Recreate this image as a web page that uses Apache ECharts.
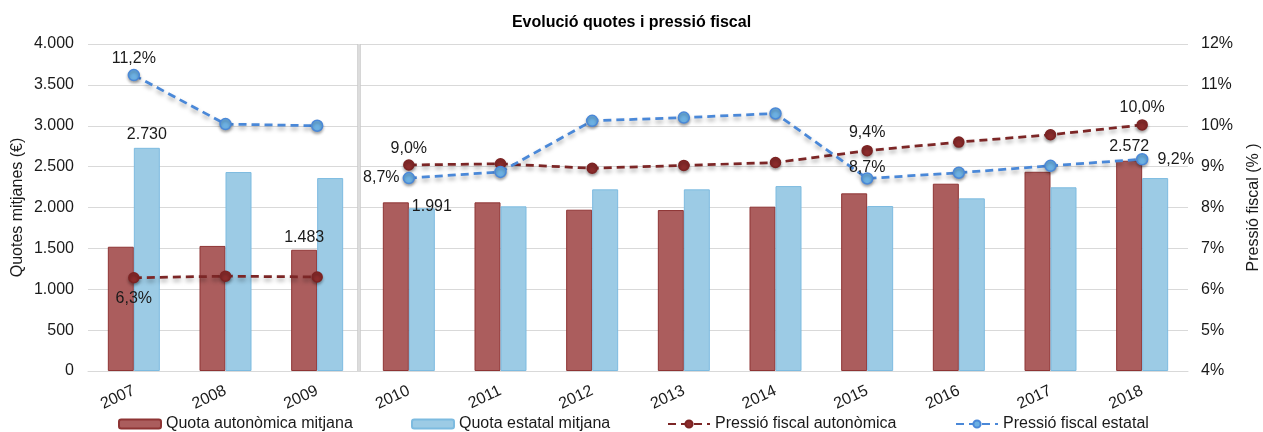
<!DOCTYPE html>
<html>
<head>
<meta charset="utf-8">
<script src="https://cdn.jsdelivr.net/npm/echarts@6/dist/echarts.min.js"></script>
<style>
html,body{margin:0;padding:0;background:#fff;}
#chart{width:1263px;height:432px;}
</style>
</head>
<body>
<div id="chart"></div>
<script>
// ---- Data ----
var years = ['2007','2008','2009','2010','2011','2012','2013','2014','2015','2016','2017','2018'];
var quotaAutonomica = [1520, 1530, 1483, 2063, 2063, 1973, 1969, 2010, 2173, 2291, 2437, 2572];
var quotaEstatal = [2730, 2434, 2360, 1991, 2014, 2222, 2222, 2262, 2018, 2112, 2247, 2360];
var pressioAutonomica = [6.28, 6.32, 6.30, 9.04, 9.07, 8.96, 9.03, 9.10, 9.39, 9.60, 9.78, 10.02];
var pressioEstatal = [11.24, 10.04, 10.00, 8.72, 8.87, 10.12, 10.20, 10.30, 8.71, 8.85, 9.02, 9.18];
var leftTicks = [0, 500, 1000, 1500, 2000, 2500, 3000, 3500, 4000];
var rightTicks = [4, 5, 6, 7, 8, 9, 10, 11, 12];
var seriesBreakIndex = 3; // series discontinuity between 2009 and 2010

// ---- Formatting helpers ----
function fmtThousands(v){
  var s = String(Math.round(v));
  return s.replace(/\B(?=(\d{3})+(?!\d))/g, '.');
}
function fmtPct1(v){ return v.toFixed(1).replace('.', ',') + '%'; }

// ---- Styles / label placement ----
var FONT = '"Liberation Sans", Arial, sans-serif';
var TXT = '#1a1a1a';
var FS = 16;
var barAutLabels = { 2: {position:'top', distance:4}, 11: {position:'top', distance:6} };
var barEstLabels = { 0: {position:'top', distance:5}, 3: {position:'top', distance:0, offset:[10, 6]} };
var lineAutLabels = { 0: {position:'bottom', distance:7}, 3: {position:'top', distance:3}, 8: {position:'top', distance:4}, 11: {position:'top', distance:4} };
var lineEstLabels = { 0: {position:'top', distance:2}, 3: {position:'left', distance:3}, 8: {position:'top', distance:-3}, 11: {position:'right', distance:9} };

function buildData(values, labels, fmt, range){
  return values.map(function(v, i){
    if (range && (i < range[0] || i > range[1])) return null;
    var item = { value: v };
    if (labels[i]) {
      item.label = Object.assign({ show: true, formatter: function(p){ return fmt(p.value); },
        color: TXT, fontSize: FS, fontFamily: FONT }, labels[i]);
    }
    return item;
  });
}

var autColor = '#7C2626';
var estColor = '#4A88D8';

function lineSeries(name, values, labels, range, color, markerFill, markerBorder, size){
  return {
    name: name, type: 'line', yAxisIndex: 1,
    data: buildData(values, labels, fmtPct1, range),
    connectNulls: false,
    symbol: 'circle', symbolSize: size,
    lineStyle: { color: color, width: 2.75, type: [8, 5], shadowColor: 'rgba(0,0,0,0.35)', shadowBlur: 4, shadowOffsetY: 3 },
    itemStyle: { color: markerFill, borderColor: markerBorder, borderWidth: 1.5, shadowColor: 'rgba(0,0,0,0.3)', shadowBlur: 3, shadowOffsetY: 2 },
    label: { show: false },
    emphasis: { disabled: true },
    z: 5
  };
}

function legendAt(name, left, w, h){
  return {
    data: [name], left: left, top: 416, padding: 0,
    itemWidth: w, itemHeight: h, itemGap: 0,
    textStyle: { fontSize: FS, color: TXT, fontFamily: FONT }
  };
}

var last = years.length - 1;
var option = {
  animation: false,
  backgroundColor: '#fff',
  textStyle: { fontFamily: FONT, color: TXT },
  title: {
    text: 'Evolució quotes i pressió fiscal',
    left: 'center', top: 10,
    textStyle: { fontSize: 16, fontWeight: 'bold', color: '#000', fontFamily: FONT }
  },
  legend: [
    legendAt('Quota autonòmica mitjana', 118, 42, 9),
    legendAt('Quota estatal mitjana', 411, 42, 9),
    legendAt('Pressió fiscal autonòmica', 667, 42, 9),
    legendAt('Pressió fiscal estatal', 955, 42, 9)
  ],
  grid: { left: 88, right: 75, top: 44, bottom: 61, outerBoundsMode: 'none', containLabel: false },
  xAxis: {
    type: 'category', data: years, boundaryGap: true,
    axisLine: { show: true, lineStyle: { color: '#d9d9d9' } },
    axisTick: { show: false },
    axisLabel: { rotate: 25, fontSize: FS, color: TXT, fontFamily: FONT, margin: 19 },
    splitLine: { show: false }
  },
  yAxis: [
    {
      type: 'value', min: leftTicks[0], max: leftTicks[leftTicks.length-1], interval: leftTicks[1]-leftTicks[0],
      name: 'Quotes mitjanes (€)', nameLocation: 'middle', nameGap: 62, nameRotate: 90, nameMoveOverlap: false,
      nameTextStyle: { fontSize: FS, color: TXT, fontFamily: FONT },
      axisLine: { show: false }, axisTick: { show: false },
      axisLabel: { fontSize: FS, color: TXT, fontFamily: FONT, margin: 14, formatter: function(v){ return fmtThousands(v); } },
      splitLine: { show: true, lineStyle: { color: '#d9d9d9', width: 1 } }
    },
    {
      type: 'value', min: rightTicks[0], max: rightTicks[rightTicks.length-1], interval: rightTicks[1]-rightTicks[0],
      name: 'Pressió fiscal (% )', nameLocation: 'middle', nameGap: 58, nameRotate: 90, nameMoveOverlap: false,
      nameTextStyle: { fontSize: FS, color: TXT, fontFamily: FONT },
      axisLine: { show: false }, axisTick: { show: false },
      axisLabel: { fontSize: FS, color: TXT, fontFamily: FONT, margin: 13, formatter: function(v){ return v + '%'; } },
      splitLine: { show: false }
    }
  ],
  series: [
    {
      name: 'Quota autonòmica mitjana', type: 'bar', barWidth: 26, barGap: '0%',
      data: buildData(quotaAutonomica, barAutLabels, fmtThousands),
      itemStyle: { color: '#AB5D5D', borderColor: '#8E3434', borderWidth: 1 },
      emphasis: { disabled: true }, z: 2
    },
    {
      name: 'Quota estatal mitjana', type: 'bar', barWidth: 26, barGap: '0%',
      data: buildData(quotaEstatal, barEstLabels, fmtThousands),
      itemStyle: { color: '#9CCBE5', borderColor: '#7DBBE0', borderWidth: 1 },
      emphasis: { disabled: true }, z: 2
    },
    lineSeries('Pressió fiscal autonòmica', pressioAutonomica, lineAutLabels, [0, seriesBreakIndex-1], autColor, '#8B2C2C', '#7C2323', 10),
    lineSeries('Pressió fiscal autonòmica', pressioAutonomica, lineAutLabels, [seriesBreakIndex, last], autColor, '#8B2C2C', '#7C2323', 10),
    lineSeries('Pressió fiscal estatal', pressioEstatal, lineEstLabels, [0, seriesBreakIndex-1], estColor, '#6CB0E2', estColor, 11),
    lineSeries('Pressió fiscal estatal', pressioEstatal, lineEstLabels, [seriesBreakIndex, last], estColor, '#6CB0E2', estColor, 11)
  ]
};

var chart = echarts.init(document.getElementById('chart'), null, { renderer: 'canvas' });
chart.setOption(option);

// separator between 2009 and 2010, placed from the axis scale
var xa = chart.convertToPixel({ xAxisIndex: 0 }, years[seriesBreakIndex - 1]);
var xb = chart.convertToPixel({ xAxisIndex: 0 }, years[seriesBreakIndex]);
var yTop = chart.convertToPixel({ yAxisIndex: 0 }, leftTicks[leftTicks.length-1]);
var yBot = chart.convertToPixel({ yAxisIndex: 0 }, leftTicks[0]);
var xs = (xa + xb) / 2 - 4;
chart.setOption({
  graphic: [
    { type: 'line', shape: { x1: xs, y1: yTop, x2: xs, y2: yBot }, style: { stroke: '#c9c9c9', lineWidth: 3.5 }, z: 1, silent: true },
    { type: 'line', shape: { x1: xs, y1: yTop, x2: xs, y2: yBot }, style: { stroke: '#efefef', lineWidth: 1 }, z: 1, silent: true }
  ]
});
</script>
</body>
</html>
